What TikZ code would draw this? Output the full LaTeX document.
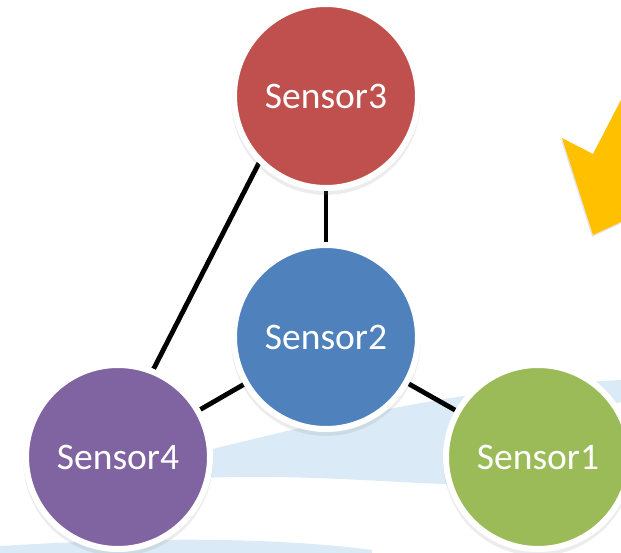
\documentclass[tikz,border=0pt]{standalone}
\usepackage{fontspec}
\setmainfont{Carlito}
\usetikzlibrary{shadows}

\definecolor{sensorred}{HTML}{C0504D}
\definecolor{sensorblue}{HTML}{4F81BD}
\definecolor{sensorgreen}{HTML}{9BBB59}
\definecolor{sensorpurple}{HTML}{8064A2}
\definecolor{chevron}{HTML}{FFC000}
\definecolor{swoosh}{HTML}{DAEAF6}

\pgfdeclarelayer{backdrop}
\pgfdeclarelayer{links}
\pgfsetlayers{backdrop,links,main}

\begin{document}
\begin{tikzpicture}[x=1pt, y=-1pt,
  sensor/.style={circle, draw=white, line width=6pt, minimum size=184pt, inner sep=0pt,
    text=white, font=\fontsize{37.5}{44}\selectfont,
    drop shadow={opacity=0.15, shadow scale=1.03, shadow xshift=0pt, shadow yshift=-4pt}},
  link/.style={line width=4.8pt, black}]
\useasboundingbox (0,0) rectangle (621,553);
\clip (0,0) rectangle (621,553);

% Sensor nodes
\node[sensor, fill=sensorred] (s3) at (326,96) {Sensor3};
\node[sensor, fill=sensorblue] (s2) at (326,337) {Sensor2};
\node[sensor, fill=sensorpurple] (s4) at (118,457) {Sensor4};
\node[sensor, fill=sensorgreen] (s1) at (538,457) {Sensor1};

% Links between sensors
\begin{pgfonlayer}{links}
\draw[link] (s3) -- (s2);
\draw[link] (s3.225) -- (s4.68);
\draw[link] (s2) -- (s4);
\draw[link] (s2) -- (s1);
\end{pgfonlayer}

% Light blue swooshes behind everything
\begin{pgfonlayer}{backdrop}
\fill[swoosh] (200,452) .. controls (300,428) and (450,388) .. (621,380)
  -- (621,402) .. controls (560,418) and (520,484) .. (445,484)
  .. controls (380,482) and (300,474) .. (200,478) -- cycle;
\fill[swoosh] (0,546) .. controls (100,540) and (250,534) .. (372,550)
  -- (372,553) -- (0,553) -- cycle;
\end{pgfonlayer}

% Yellow chevron, cut off at the right edge
\fill[chevron, drop shadow={opacity=0.2, shadow xshift=-1pt, shadow yshift=-2pt}]
  (562,138) -- (593,154) -- (621,100) -- (621,222) -- (593,235) -- cycle;

\end{tikzpicture}
\end{document}
